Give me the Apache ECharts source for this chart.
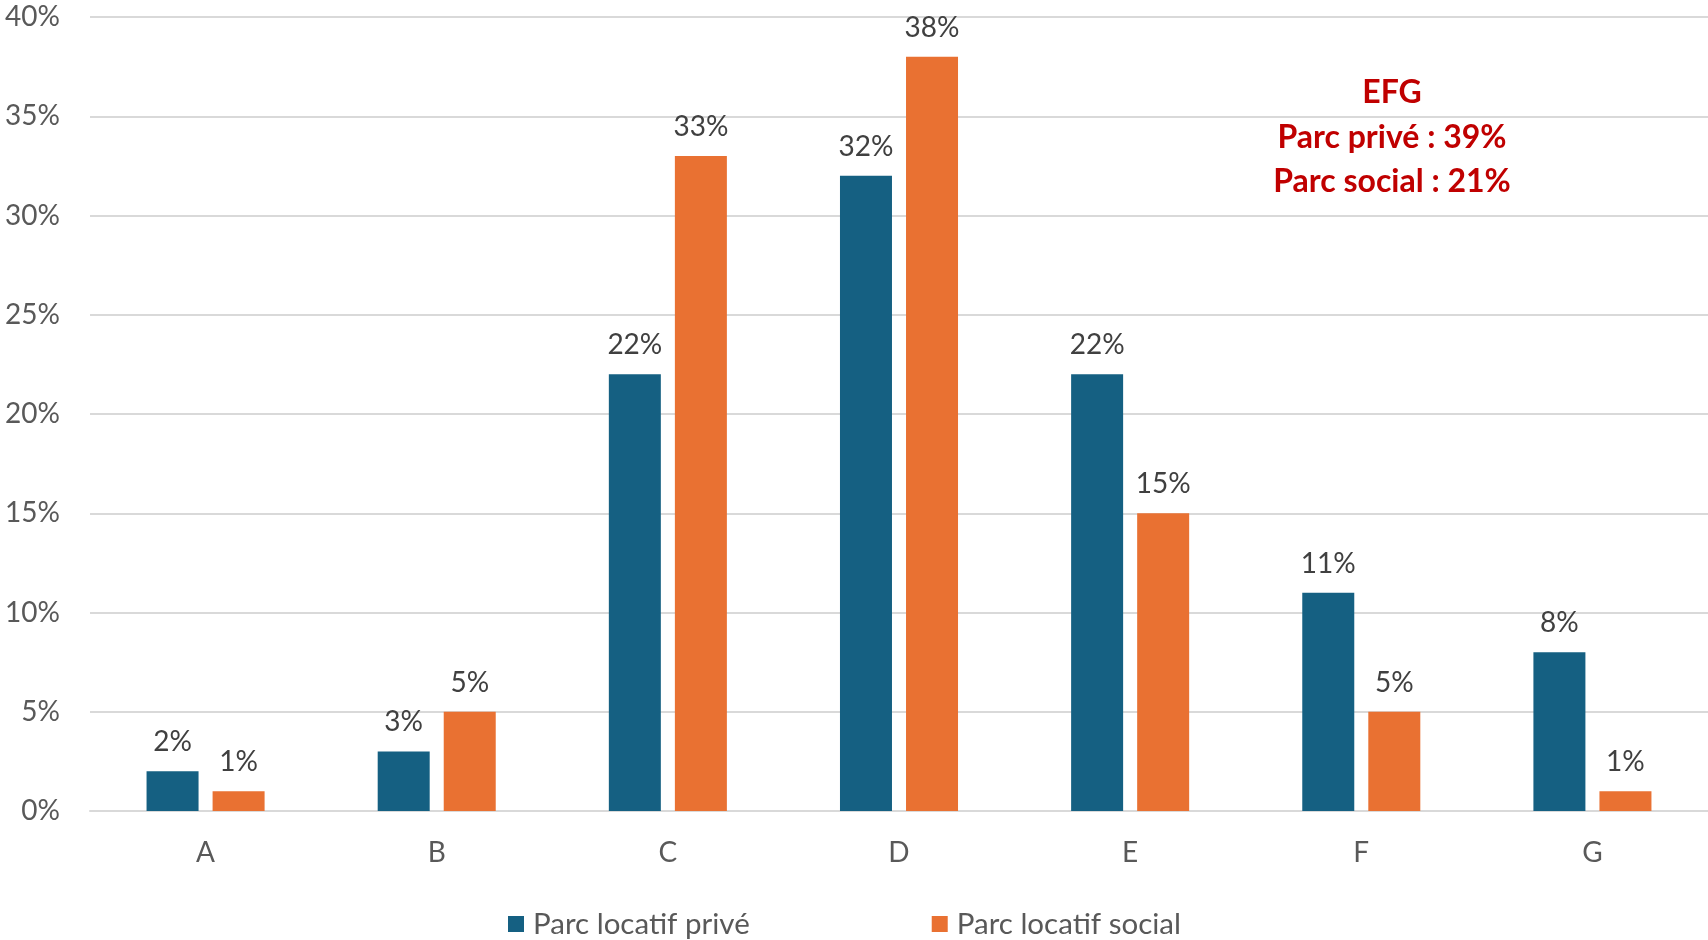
<!DOCTYPE html>
<html>
<head>
<meta charset="utf-8">
<script src="https://cdn.jsdelivr.net/npm/echarts@6/dist/echarts.min.js"></script>
<style>
html,body{margin:0;padding:0;background:#fff;}
#chart{width:1708px;height:940px;}
</style>
</head>
<body>
<div id="chart"></div>
<script>
const categories = ['A','B','C','D','E','F','G'];
const privateValues = [2,3,22,32,22,11,8];
const socialValues = [1,5,33,38,15,5,1];
const seriesNames = ['Parc locatif privé','Parc locatif social'];
const annotationLines = ['EFG','Parc privé : 39%','Parc social : 21%'];

const FONT = 'Lato, "Open Sans", sans-serif';
const chart = echarts.init(document.getElementById('chart'));
const labelCfg = {
  show: true, position: 'top', distance: 15,
  formatter: p => p.value + '%',
  color: '#404040', fontSize: 28, fontFamily: FONT
};
chart.setOption({
  animation: false,
  grid: {left: 90, right: 0, top: 17, bottom: 129, containLabel: false},
  legend: {
    left: 503, top: 904, itemWidth: 16, itemHeight: 16, itemGap: 182,
    icon: 'rect',
    textStyle: {color: '#595959', fontSize: 29.5, fontFamily: FONT, padding: [0,0,0,4]},
    data: seriesNames
  },
  xAxis: {
    type: 'category', data: categories,
    axisLine: {lineStyle: {color: '#D9D9D9', width: 2}},
    axisTick: {show: false},
    axisLabel: {color: '#595959', fontSize: 28, fontFamily: FONT, margin: 28}
  },
  yAxis: {
    type: 'value', min: 0, max: 40, interval: 5,
    axisLine: {show: false}, axisTick: {show: false},
    splitLine: {lineStyle: {color: '#D9D9D9', width: 2}},
    axisLabel: {color: '#595959', fontSize: 28, fontFamily: FONT, margin: 30, formatter: '{value}%'}
  },
  series: [
    {name: seriesNames[0], type: 'bar', data: privateValues, barWidth: 52, barGap: '27%',
     itemStyle: {color: '#156082'}, label: labelCfg},
    {name: seriesNames[1], type: 'bar', data: socialValues, barWidth: 52, barGap: '27%',
     itemStyle: {color: '#E97132'}, label: labelCfg}
  ],
  graphic: annotationLines.map((t, i) => ({
    type: 'text', x: 1392, y: 93 + i * 44.5,
    style: {text: t, fill: '#C00000', font: 'bold 32px ' + FONT, textAlign: 'center', textVerticalAlign: 'middle'}
  }))
});
</script>
</body>
</html>
